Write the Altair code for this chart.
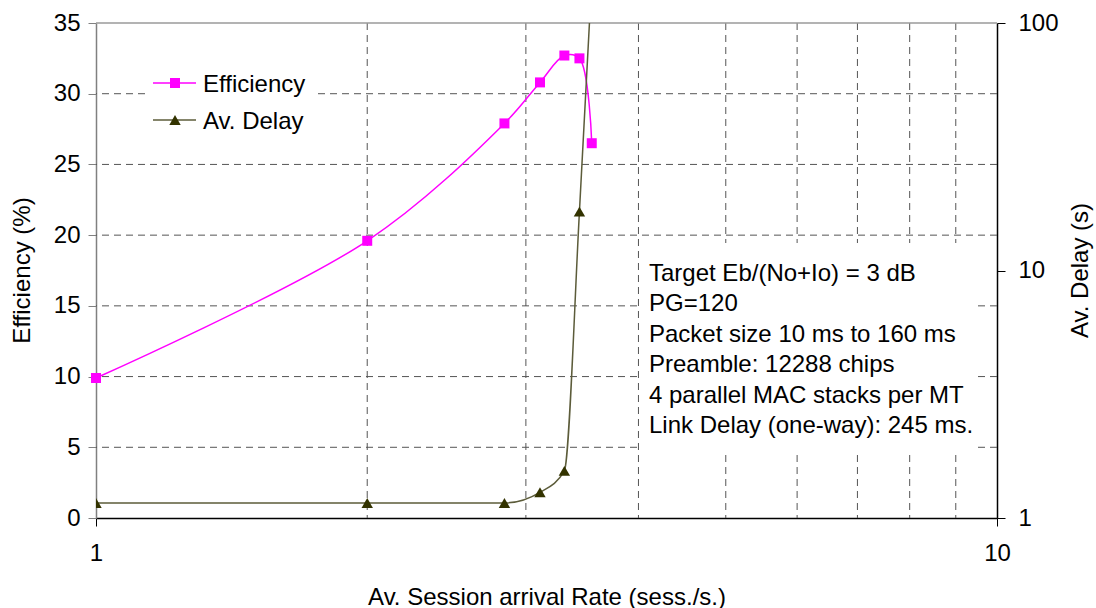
import altair as alt
import pandas as pd

# Session arrival rate (sess./s) at each simulated operating point
rate = [1.0, 2.0, 2.84, 3.11, 3.31, 3.44, 3.55]
# MAC efficiency (%)
efficiency = [9.9, 19.6, 27.9, 30.8, 32.7, 32.5, 26.5]
# Average delay (s); the last point saturates above the axis range
delay = [1.15, 1.15, 1.15, 1.27, 1.55, 17.3, 150.0]

x_grid = [2, 3, 4, 5, 6, 7, 8, 9]
y_grid = [5, 10, 15, 20, 25, 30]
y_top = [35]

notes = [
    "Target Eb/(No+Io) = 3 dB",
    "PG=120",
    "Packet size 10 ms to 160 ms",
    "Preamble: 12288 chips",
    "4 parallel MAC stacks per MT",
    "Link Delay (one-way): 245 ms.",
]

EFF_COLOR = "#ff00ff"
DELAY_MARK = "#333300"
DELAY_LINE = "#5c5c3a"
FONT = "Liberation Sans"
FS = 24

df = pd.DataFrame({"rate": rate, "eff": efficiency, "delay": delay})
one = pd.DataFrame({"a": [0]})

x_scale = alt.Scale(type="log", domain=[1, 10], nice=False)
y_left = alt.Scale(domain=[0, 35], nice=False)
y_right = alt.Scale(type="log", domain=[1, 100], nice=False)

# One shared definition for the bottom axis, reused by every layer on x
x_axis = alt.Axis(
    orient="bottom",
    values=[1, 10],
    format="d",
    title="Av. Session arrival Rate (sess./s.)",
    grid=False,
    tickSize=8,
    tickColor="black",
    domainColor="black",
    labelPadding=15,
    labelFlush=False,
    titleY=79,
    titleBaseline="middle",
)


def xenc(field):
    return alt.X(field, scale=x_scale, axis=x_axis)


# Dashed grid lines
vgrid = alt.Chart(pd.DataFrame({"rate": x_grid})).mark_rule(
    color="#555555", strokeDash=[7, 5], strokeWidth=1
).encode(x=xenc("rate:Q"))

hgrid = alt.Chart(pd.DataFrame({"h": y_grid})).mark_rule(
    color="#555555", strokeDash=[7, 5], strokeWidth=1
).encode(y=alt.Y("h:Q", scale=y_left, axis=None))

htop = alt.Chart(pd.DataFrame({"h": y_top})).mark_rule(
    color="#9a9a9a", strokeWidth=1.5
).encode(y=alt.Y("h:Q", scale=y_left, axis=None))

# White backing boxes for the legend and the parameter notes
legend_box = alt.Chart(one).mark_rect(color="white").encode(
    x=alt.value(49), x2=alt.value(221), y=alt.value(37), y2=alt.value(117)
)
notes_box = alt.Chart(one).mark_rect(color="white").encode(
    x=alt.value(544), x2=alt.value(881), y=alt.value(220), y2=alt.value(429)
)

base = alt.Chart(df)

eff_line = base.mark_line(
    color=EFF_COLOR, strokeWidth=1.5, interpolate="catmull-rom"
).encode(
    x=xenc("rate:Q"),
    y=alt.Y(
        "eff:Q",
        scale=y_left,
        axis=alt.Axis(
            orient="left",
            values=[0, 5, 10, 15, 20, 25, 30, 35],
            title="Efficiency (%)",
            grid=False,
            tickSize=8,
            tickColor="#808080",
            domainColor="#808080",
            labelPadding=8,
            labelFlush=False,
            titleX=-74,
            titleY=247,
            titleBaseline="middle",
        ),
    ),
)

eff_pts = base.mark_point(
    shape="square", filled=True, size=100, color=EFF_COLOR, opacity=1
).encode(x=xenc("rate:Q"), y=alt.Y("eff:Q", scale=y_left, axis=None))

delay_line = base.mark_line(
    color=DELAY_LINE, strokeWidth=1.5, interpolate="monotone", clip=True
).encode(
    x=xenc("rate:Q"),
    y=alt.Y(
        "delay:Q",
        scale=y_right,
        axis=alt.Axis(
            orient="right",
            values=[1, 10, 100],
            format="d",
            title="Av. Delay (s)",
            titleAngle=270,
            titleX=83,
            titleY=247,
            titleBaseline="middle",
            grid=False,
            tickSize=8,
            tickColor="black",
            domainColor="black",
            labelPadding=13,
            labelFlush=False,
        ),
    ),
)
delay_pts = base.mark_point(
    shape="triangle-up", filled=True, size=130, color=DELAY_MARK, opacity=1, clip=True
).encode(x=xenc("rate:Q"), y=alt.Y("delay:Q", scale=y_right, axis=None))

# Inline legend
leg_eff_line = alt.Chart(one).mark_rule(color=EFF_COLOR, strokeWidth=1.5).encode(
    x=alt.value(57), x2=alt.value(100), y=alt.value(60)
)
leg_eff_pt = alt.Chart(one).mark_point(
    shape="square", filled=True, size=100, color=EFF_COLOR, opacity=1
).encode(x=alt.value(79), y=alt.value(60))
leg_del_line = alt.Chart(one).mark_rule(color=DELAY_LINE, strokeWidth=1.5).encode(
    x=alt.value(57), x2=alt.value(100), y=alt.value(97)
)
leg_del_pt = alt.Chart(one).mark_point(
    shape="triangle-up", filled=True, size=130, color=DELAY_MARK, opacity=1
).encode(x=alt.value(79), y=alt.value(97))
leg_text = alt.Chart(one).mark_text(
    align="left", baseline="middle", fontSize=FS, font=FONT, color="black",
    lineHeight=37,
).encode(x=alt.value(107), y=alt.value(62), text=alt.value(["Efficiency", "Av. Delay"]))

notes_text = alt.Chart(one).mark_text(
    align="left", baseline="middle", fontSize=FS, font=FONT, color="black",
    lineHeight=30.4,
).encode(x=alt.value(553), y=alt.value(251), text=alt.value(notes))

chart = (
    alt.layer(
        vgrid, hgrid, htop, legend_box, notes_box,
        eff_line, eff_pts, delay_line, delay_pts,
        leg_eff_line, leg_eff_pt, leg_del_line, leg_del_pt, leg_text, notes_text,
    )
    .resolve_scale(y="independent")
    .properties(
        width=901,
        height=495,
        autosize="none",
        padding={"left": 96, "top": 23, "right": 99, "bottom": 90},
        background="white",
    )
    .configure_view(stroke=None)
    .configure_axis(
        labelFont=FONT,
        titleFont=FONT,
        labelFontSize=FS,
        titleFontSize=FS,
        labelColor="black",
        titleColor="black",
        titleFontWeight="normal",
        domainWidth=1.5,
    )
)

chart.save("out.html", embed_options={"renderer": "svg", "actions": False})
